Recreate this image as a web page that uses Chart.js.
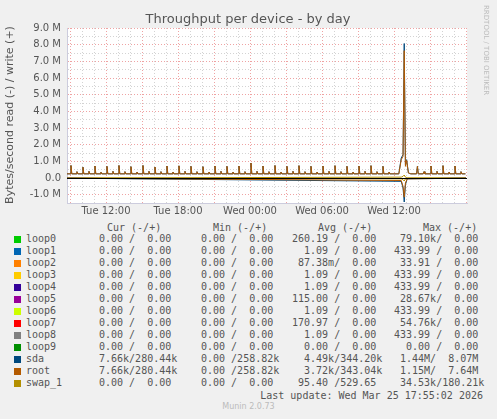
<!DOCTYPE html>
<html><head><meta charset="utf-8">
<script src="https://cdn.jsdelivr.net/npm/chart.js@4/dist/chart.umd.min.js"></script>
<style>
body{margin:0;background:#f0f0f0;width:497px;height:419px;overflow:hidden;position:relative;font-family:"DejaVu Sans",sans-serif}
#wrap{position:absolute;left:0;top:0;width:497px;height:220px}
.m{position:absolute;font-family:"DejaVu Sans Mono",monospace;font-size:10px;color:#555;white-space:pre;line-height:12px}
.sw{position:absolute;width:7px;height:7px;left:14px}
</style></head><body>
<div id="wrap"><canvas id="c" width="497" height="220"></canvas></div>
<div id="legend"></div>
<script>
// time axis in hours from Tue 00:00
const xTickHours = [12, 18, 24, 30, 36];
const xTickLabels = ["Tue 12:00", "Tue 18:00", "Wed 00:00", "Wed 06:00", "Wed 12:00"];
const baseWrite = 0.25; // M
// hourly write bursts (hour, peak in M)
const bigPeakHours = [9.08,10.08,11.08,12.08,13.08,14.08,15.08,16.08,17.08,18.08,19.08,20.08,21.08,22.08,23.08,24.08,25.08,26.08,27.08,28.08,29.08,30.08,31.08,32.08,33.08,34.08,35.08,37.95,39.08,40.08,41.08];
const bigPeakVals  = [0.75,0.65,0.72,0.70,0.75,0.68,0.75,0.66,0.72,0.73,0.70,0.68,0.72,0.70,0.72,0.90,0.72,0.75,0.70,0.74,0.70,0.72,0.74,0.70,0.72,0.74,0.70,0.70,0.72,0.74,0.72];
const smallPeakHours = [9.58,10.58,11.58,12.58,13.58,14.58,15.58,16.58,17.58,18.58,19.58,20.58,21.58,22.58,23.58,24.58,25.58,26.58,27.58,28.58,29.58,30.58,31.58,32.58,33.58,34.58,35.58,38.5,39.58,40.58,41.58];
const smallPeakVals  = [0.38,0.40,0.35,0.40,0.38,0.36,0.40,0.38,0.36,0.40,0.38,0.36,0.40,0.36,0.38,0.40,0.38,0.36,0.40,0.38,0.36,0.40,0.38,0.36,0.40,0.38,0.36,0.38,0.40,0.36,0.38];
// big burst around Wed 12:55
const burstHours = [36.4, 36.6, 36.75, 36.85, 36.95, 37.05, 37.2, 37.4];
const sdaBurst   = [0.25, 1.2, 1.4, 8.07, 0.8, 1.1, 0.3, 0.25];
const rootBurst  = [0.25, 1.1, 1.3, 7.64, 0.7, 1.05, 0.3, 0.25];
const readHours  = [8.75, 36.6, 36.75, 36.85, 36.95, 37.1, 42.0];
const sdaRead    = [-0.01, -0.2, -0.6, -1.44, -0.4, -0.05, -0.01];
const rootRead   = [-0.01, -0.15, -0.5, -1.15, -0.3, -0.05, -0.01];
const swapWrite  = [0, 0.05, 0.1, 0.18, 0.05, 0, 0];
const swapRead   = [0, -0.05, -0.1, -0.18, -0.05, 0, 0];
const startHour = 8.75, endHour = 42.08;

function writeSeries(burst) {
  const pts = [{x: startHour, y: baseWrite}];
  const events = [];
  bigPeakHours.forEach((h, i) => events.push([h, bigPeakVals[i]]));
  smallPeakHours.forEach((h, i) => events.push([h, smallPeakVals[i]]));
  events.sort((a, b) => a[0] - b[0]);
  let burstDone = false;
  events.forEach(([h, v]) => {
    if (!burstDone && h > burstHours[0]) {
      burstHours.forEach((bh, i) => pts.push({x: bh, y: burst[i]}));
      burstDone = true;
    }
    pts.push({x: h - 0.07, y: baseWrite}, {x: h, y: v}, {x: h + 0.07, y: baseWrite});
  });
  pts.push({x: 41.95, y: baseWrite});
  return pts.map(p => ({x: p.x, y: p.y * 1e6}));
}
const pairs = (xs, ys) => xs.map((x, i) => ({x: x, y: ys[i] * 1e6}));

const line = (data, color) => ({data, borderColor: color, borderWidth: 1, pointRadius: 0, fill: false, tension: 0});

const decor = {
  id: 'decor',
  beforeDraw(ch) {
    const a = ch.chartArea, g = ch.ctx;
    g.save(); g.fillStyle = '#fff'; g.fillRect(a.left, a.top, a.right - a.left, a.bottom - a.top); g.restore();
  },
  afterDatasetsDraw(ch) {
    const g = ch.ctx, a = ch.chartArea, y0 = ch.scales.y.getPixelForValue(0);
    g.save();
    g.strokeStyle = '#000'; g.lineWidth = 1;
    g.beginPath(); g.moveTo(a.left, y0 + 0.5); g.lineTo(a.right, y0 + 0.5); g.stroke();
    g.fillStyle = '#555'; g.font = '13px "DejaVu Sans"'; g.textAlign = 'center';
    g.fillText('Throughput per device - by day', 248, 23);
    g.font = '11px "DejaVu Sans"';
    g.translate(13, 115); g.rotate(-Math.PI / 2);
    g.fillText('Bytes/second read (-) / write (+)', 0, 0);
    g.restore();
    g.save();
    g.fillStyle = '#bbb'; g.font = '7px "DejaVu Sans"';
    g.translate(484, 5); g.rotate(Math.PI / 2); g.textAlign = 'left';
    g.fillText('RRDTOOL / TOBI OETIKER', 0, 0);
    g.restore();
  }
};

new Chart(document.getElementById('c'), {
  type: 'line',
  data: {datasets: [
    line(pairs(readHours, swapRead), '#B38F00'),
    line(pairs(readHours, swapWrite), '#B38F00'),
    line(pairs(readHours, sdaRead), '#00487D'),
    line(pairs(readHours, rootRead), '#B35A00'),
    line(writeSeries(sdaBurst), '#00487D'),
    line(writeSeries(rootBurst), '#B35A00')
  ].reverse()},
  options: {
    animation: false, responsive: false, devicePixelRatio: 1,
    layout: {padding: {top: 28, right: 30, left: 0, bottom: 0}},
    plugins: {legend: {display: false}, tooltip: {enabled: false}},
    scales: {
      x: {
        type: 'linear', min: startHour, max: endHour,
        afterBuildTicks(s) { const t = []; for (let h = 9; h <= 42; h++) t.push({value: h}); s.ticks = t; },
        afterFit(s) { s.height = 17; },
        ticks: {autoSkip: false, maxRotation: 0, color: '#555', font: {family: 'DejaVu Sans', size: 10}, padding: 2,
          callback: v => { const i = xTickHours.indexOf(v); return i >= 0 ? xTickLabels[i] : ''; }},
        grid: {color: c => c.tick && c.tick.value % 3 === 0 ? 'rgba(235,140,140,0.8)' : 'rgba(200,200,200,0.8)',
          tickLength: 0, lineWidth: 1},
        border: {color: '#ccd', dash: [1, 2]}
      },
      y: {
        min: -1.5e6, max: 9e6,
        afterBuildTicks(s) { const t = []; for (let v = -1.5; v <= 9.001; v += 0.5) t.push({value: Math.round(v * 10) / 10 * 1e6}); s.ticks = t; },
        afterFit(s) { s.width = 67; },
        ticks: {autoSkip: false, color: '#555', font: {family: 'DejaVu Sans', size: 10}, padding: 6,
          callback: v => { const m = v / 1e6; if (Math.abs(m - Math.round(m)) > 1e-6) return ''; return m === 0 ? '0.0' : m.toFixed(1) + ' M'; }},
        grid: {color: c => c.tick && Math.abs(c.tick.value / 1e6 - Math.round(c.tick.value / 1e6)) < 1e-6 ? 'rgba(235,140,140,0.8)' : 'rgba(200,200,200,0.8)',
          tickLength: 0},
        border: {color: '#ccd', dash: [1, 2]}
      }
    }
  },
  plugins: [decor]
});

// legend table
const names = ["loop0","loop1","loop2","loop3","loop4","loop5","loop6","loop7","loop8","loop9","sda","root","swap_1"];
const colors = ["#00CC00","#0066B3","#FF8000","#FFCC00","#330099","#990099","#CCFF00","#FF0000","#808080","#008F00","#00487D","#B35A00","#B38F00"];
const curCol = ["0.00 /  0.00","0.00 /  0.00","0.00 /  0.00","0.00 /  0.00","0.00 /  0.00","0.00 /  0.00","0.00 /  0.00","0.00 /  0.00","0.00 /  0.00","0.00 /  0.00","7.66k/280.44k","7.66k/280.44k","0.00 /  0.00"];
const minCol = ["0.00 /  0.00","0.00 /  0.00","0.00 /  0.00","0.00 /  0.00","0.00 /  0.00","0.00 /  0.00","0.00 /  0.00","0.00 /  0.00","0.00 /  0.00","0.00 /  0.00","0.00 /258.82k","0.00 /258.82k","0.00 /  0.00"];
const avgCol = ["260.19 /  0.00","  1.09 /  0.00"," 87.38m/  0.00","  1.09 /  0.00","  1.09 /  0.00","115.00 /  0.00","  1.09 /  0.00","170.97 /  0.00","  1.09 /  0.00","  0.00 /  0.00","  4.49k/344.20k","  3.72k/343.04k"," 95.40 /529.65"];
const maxCol = [" 79.10k/  0.00","433.99 /  0.00"," 33.91 /  0.00","433.99 /  0.00","433.99 /  0.00"," 28.67k/  0.00","433.99 /  0.00"," 54.76k/  0.00","433.99 /  0.00","  0.00 /  0.00"," 1.44M/  8.07M"," 1.15M/  7.64M"," 34.53k/180.21k"];
const L = document.getElementById('legend');
function txt(s, x, y, extra) { const d = document.createElement('div'); d.className = 'm'; d.textContent = s; d.style.left = x + 'px'; d.style.top = y + 'px'; if (extra) Object.assign(d.style, extra); L.appendChild(d); }
txt('Cur (-/+)', 107, 222); txt('Min (-/+)', 213, 222); txt('Avg (-/+)', 318, 222); txt('Max (-/+)', 423, 222);
names.forEach((n, i) => {
  const y = 233 + i * 12;
  const s = document.createElement('div'); s.className = 'sw'; s.style.top = (y + 3) + 'px'; s.style.background = colors[i]; L.appendChild(s);
  txt(n, 26, y); txt(curCol[i], 99, y); txt(minCol[i], 201, y); txt(avgCol[i], 292, y); txt(maxCol[i], 394, y);
});
txt('Last update: Wed Mar 25 17:55:02 2026', 0, 390, {left: 'auto', right: '14px'});
const mu = document.createElement('div'); mu.textContent = 'Munin 2.0.73';
Object.assign(mu.style, {position: 'absolute', left: '0', width: '497px', textAlign: 'center', top: '402px', fontSize: '8px', color: '#bbb'});
L.appendChild(mu);
</script>
</body></html>
